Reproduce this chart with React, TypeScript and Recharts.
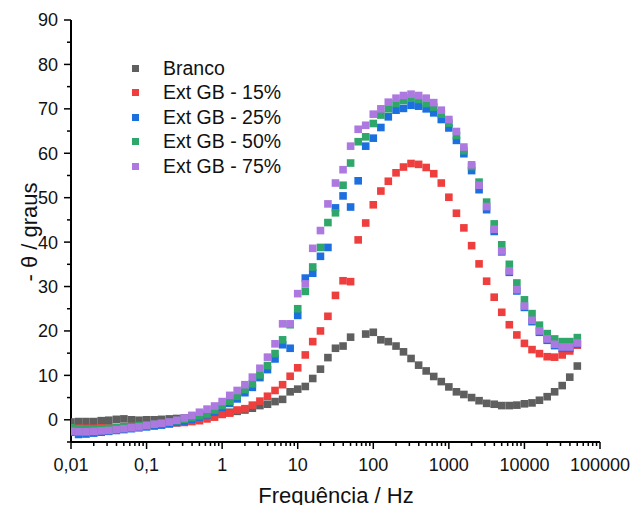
import React from "react";
import { ScatterChart, Scatter, XAxis, YAxis, Legend } from "recharts";

// measurement frequencies (Hz), 10 points per decade
const freq = [
  0.01, 0.0126, 0.0158, 0.02, 0.0251, 0.0316, 0.0398, 0.0501, 0.0631, 0.0794,
  0.1, 0.126, 0.158, 0.2, 0.251, 0.316, 0.398, 0.501, 0.631, 0.794,
  1, 1.26, 1.58, 2, 2.51, 3.16, 3.98, 5.01, 6.31, 7.94,
  10, 12.6, 15.8, 20, 25.1, 31.6, 39.8, 50.1, 63.1, 79.4,
  100, 126, 158, 200, 251, 316, 398, 501, 631, 794,
  1000, 1260, 1580, 2000, 2510, 3160, 3980, 5010, 6310, 7940,
  10000, 12600, 15800, 20000, 25100, 31600, 39800, 50100,
];

const branco = [
  -0.5, -0.4, -0.4, -0.4, -0.2, -0.1, 0.1, 0.2, 0.0, -0.1,
  0.0, 0.0, 0.1, 0.2, 0.3, 0.4, 0.6, 0.8, 1.0, 1.2,
  1.4, 1.7, 1.9, 2.2, 2.6, 3.2, 3.5, 4.1, 4.6, 6.3,
  6.9, 7.5, 9.3, 11.4, 14.0, 16.1, 16.6, 18.6, null, 19.3,
  19.7, 18.0, 17.6, 16.6, 15.3, 13.8, 12.3, 11.0, 9.75, 8.6,
  7.4, 6.3, 5.7, 5.0, 4.3, 3.7, 3.5, 3.2, 3.2, 3.3,
  3.6, 3.8, 4.4, 5.2, 6.3, 7.7, 9.6, 12.1,
];

const gb15 = [
  -1.8, -1.9, -1.9, -1.9, -1.8, -1.8, -1.7, -1.6, -1.5, -1.4,
  -1.2, -1.1, -1.0, -0.9, -0.7, -0.6, -0.4, -0.2, 0.2, 0.6,
  1.2, 1.5, 2.2, 2.5, 3.3, 4.2, 5.3, 6.6, 7.9, 9.8,
  11.7, 14.6, 17.6, 20.0, 23.3, 28.0, 31.3, 31.1, 40.5, 44.3,
  48.4, 51.5, 53.7, 55.6, 56.9, 57.7, 57.5, 56.8, 55.4, 53.3,
  50.1, 46.5, 43.2, 39.2, 35.1, 31.2, 27.6, 24.2, 21.4, 19.1,
  17.2, 15.8, 14.9, 14.2, 14.1, 14.6, 15.5, 16.8,
];

const gb25 = [
  -2.8, -3.3, -3.2, -3.0, -2.8, -2.6, -2.4, -2.2, -2.0, -1.8,
  -1.6, -1.4, -1.2, -0.9, -0.6, -0.3, 0.1, 0.6, 1.1, 1.7,
  2.8, 3.7, 4.7, 6.1, 7.3, 9.5, 11.3, 13.7, 16.9, 16.1,
  23.5, 31.9, 33.0, 36.8, 38.8, 47.7, 50.4, 47.9, 53.8, 61.6,
  63.4, 65.8, 68.2, 69.7, 70.1, 70.8, 70.6, 70.0, 69.1, 67.6,
  65.7, 62.9, 59.9, 56.1, 51.8, 47.3, 42.4, 37.8, 33.2, 29.0,
  25.3, 22.1, 19.7, 17.9, 16.7, 16.1, 16.1, 17.0,
];

const gb50 = [
  -1.8, -2.0, -2.1, -2.1, -2.0, -1.9, -1.8, -1.6, -1.5, -1.3,
  -1.2, -1.0, -0.8, -0.5, -0.2, 0.1, 0.5, 0.9, 1.3, 2.2,
  3.2, 4.2, 5.3, 6.8, 8.1, 10.1, 12.2, 14.9, 18.0, 21.4,
  25.0, 28.9, 34.4, 38.8, 44.4, 46.6, 52.8, 57.8, 62.6, 63.7,
  66.7, 68.6, 70.0, 71.2, 71.9, 72.4, 72.1, 71.2, 70.4, 68.8,
  66.8, 64.0, 60.6, 57.0, 53.5, 49.0, 44.1, 39.4, 35.0, 30.8,
  27.0, 23.9, 21.3, 19.4, 18.2, 17.6, 17.6, 18.5,
];

const gb75 = [
  -2.6, -2.7, -2.7, -2.6, -2.5, -2.4, -2.2, -2.0, -1.8, -1.6,
  -1.3, -1.0, -0.8, -0.5, -0.1, 0.4, 1.0, 1.7, 2.4, 3.1,
  4.1, 5.5, 6.6, 7.9, 9.6, 11.6, 14.1, 17.1, 21.6, 21.6,
  28.4, 30.6, 38.6, 42.6, 48.6, 53.3, 56.3, 61.6, 65.4, 66.3,
  68.8, 70.0, 71.5, 72.4, 73.0, 73.3, 73.0, 72.4, 71.4, 69.7,
  67.6, 64.9, 61.4, 57.4, 52.8, 48.0, 42.9, 38.0, 33.5, 29.3,
  25.6, 22.4, 20.0, 18.2, 17.0, 16.4, 16.4, 17.3,
];

const series = [
  { name: "Branco", color: "#5f5f5f", values: branco },
  { name: "Ext GB - 15%", color: "#ef3e3e", values: gb15 },
  { name: "Ext GB - 25%", color: "#1c6fdf", values: gb25 },
  { name: "Ext GB - 50%", color: "#2fa66a", values: gb50 },
  { name: "Ext GB - 75%", color: "#ad78e0", values: gb75 },
];

const xMajor = [0.01, 0.1, 1, 10, 100, 1000, 10000, 100000];
const xMinor = xMajor.slice(0, -1).flatMap((d) =>
  [2, 3, 4, 5, 6, 7, 8, 9].map((m) => +(d * m).toPrecision(3))
);
const xTicks = [...xMajor, ...xMinor].sort((a, b) => a - b);
const yTicks = [-5, 0, 5, 10, 15, 20, 25, 30, 35, 40, 45, 50, 55, 60, 65, 70, 75, 80, 85, 90];

const FONT = "'Liberation Sans', Arial, sans-serif";

const fmtX = (v: number) => String(v).replace(".", ",");

function XTick(props: any) {
  const { x, y, payload } = props;
  const v = payload.value;
  const major = xMajor.includes(v);
  return (
    <g>
      <line x1={x} x2={x} y1={y} y2={y + (major ? 7 : 4)} stroke="#000" strokeWidth={1.5} />
      {major && (
        <text x={x} y={y + 29} textAnchor="middle" fontSize={18} fontFamily={FONT} fill="#111">
          {fmtX(v)}
        </text>
      )}
    </g>
  );
}

function YTick(props: any) {
  const { x, y, payload } = props;
  const v = payload.value;
  const major = v % 10 === 0;
  return (
    <g>
      <line x1={x} x2={x - (major ? 7 : 4)} y1={y} y2={y} stroke="#000" strokeWidth={1.5} />
      {major && (
        <text x={x - 13} y={y} dy="0.36em" textAnchor="end" fontSize={18} fontFamily={FONT} fill="#111">
          {v}
        </text>
      )}
    </g>
  );
}

function Square(props: any) {
  const { cx, cy, fill } = props;
  if (cx == null || cy == null) return null;
  return <rect x={cx - 3.8} y={cy - 3.8} width={7.6} height={7.6} fill={fill} />;
}

function LegendBox() {
  return (
    <div style={{ fontFamily: FONT }}>
      {series.map((s) => (
        <div key={s.name} style={{ display: "flex", alignItems: "center", height: 24.5 }}>
          <span style={{ width: 7, height: 7, background: s.color, marginRight: 24.5, flex: "none" }} />
          <span style={{ fontSize: 19.5, color: "#111", whiteSpace: "nowrap" }}>{s.name}</span>
        </div>
      ))}
    </div>
  );
}

export default function App() {
  return (
    <div style={{ position: "absolute", left: 0, top: 0, width: 632, height: 505, background: "#fff" }}>
      <ScatterChart width={632} height={505} margin={{ top: 20, right: 32, bottom: 23, left: 21 }}>
        <XAxis
          dataKey="f"
          type="number"
          scale="log"
          domain={[0.01, 100000]}
          ticks={xTicks}
          interval={0}
          allowDataOverflow
          height={40}
          tickSize={0}
          tickMargin={0}
          tickLine={false}
          tick={<XTick />}
          axisLine={{ stroke: "#000", strokeWidth: 2 }}
        />
        <XAxis
          xAxisId="top"
          orientation="top"
          type="number"
          scale="log"
          domain={[0.01, 100000]}
          height={0}
          tick={false}
          tickLine={false}
          axisLine={{ stroke: "#000", strokeWidth: 2 }}
        />
        <YAxis
          dataKey="v"
          type="number"
          domain={[-5, 90]}
          ticks={yTicks}
          interval={0}
          allowDataOverflow
          width={50}
          tickSize={0}
          tickMargin={0}
          tickLine={false}
          tick={<YTick />}
          axisLine={{ stroke: "#000", strokeWidth: 2 }}
        />
        <YAxis
          yAxisId="right"
          orientation="right"
          type="number"
          domain={[-5, 90]}
          width={0}
          tick={false}
          tickLine={false}
          axisLine={{ stroke: "#000", strokeWidth: 2 }}
        />
        {series.map((s) => (
          <Scatter
            key={s.name}
            name={s.name}
            data={freq
              .map((f, i) => ({ f, v: s.values[i] }))
              .filter((d) => d.v !== null)}
            fill={s.color}
            shape={<Square />}
            isAnimationActive={false}
          />
        ))}
        <Legend
          layout="vertical"
          align="center"
          verticalAlign="middle"
          wrapperStyle={{ left: 131.5, top: 56, width: 220, height: 125 }}
          content={() => <LegendBox />}
        />
        <text
          x={29}
          y={232}
          transform="rotate(-90 29 232)"
          textAnchor="middle"
          dy="0.36em"
          fontSize={22}
          fontFamily={FONT}
          fill="#111"
        >
          - θ / graus
        </text>
        <text x={336} y={503} textAnchor="middle" fontSize={22} fontFamily={FONT} fill="#111">
          Frequência / Hz
        </text>
      </ScatterChart>
    </div>
  );
}
